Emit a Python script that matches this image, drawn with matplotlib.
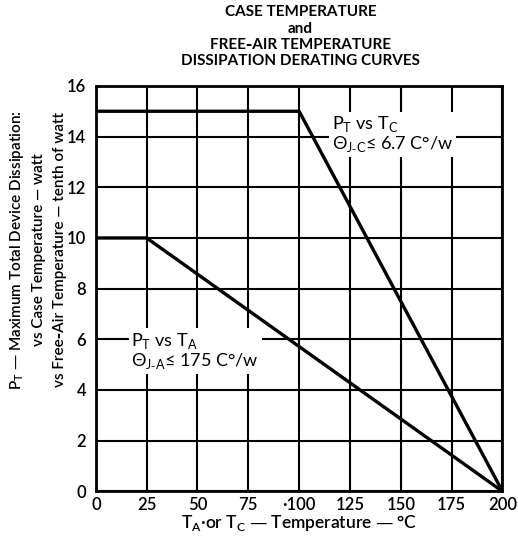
import matplotlib
matplotlib.use("Agg")
import matplotlib.pyplot as plt

plt.rcParams["font.family"] = ["Lato", "DejaVu Sans"]

# derating curves: (temperature degC, dissipation)
case_t = [0, 100, 200]
case_p = [15, 15, 0]
air_t = [0, 25, 200]
air_p = [10, 10, 0]

x_ticks = [0, 25, 50, 75, 100, 125, 150, 175, 200]
x_labels = ["0", "25", "50", "75", "\u00b7100", "125", "150", "175", "200"]
y_ticks = [0, 2, 4, 6, 8, 10, 12, 14, 16]

fig = plt.figure(figsize=(5.18, 5.37), dpi=100)
ax = fig.add_axes([0.185, 0.085, 0.785, 0.755])

ax.plot(case_t, case_p, color="black", lw=2.4, zorder=3)
ax.plot(air_t, air_p, color="black", lw=2.4, zorder=3)

ax.set_xlim(0, 200)
ax.set_ylim(0, 16)
ax.set_xticks(x_ticks)
ax.set_xticklabels(x_labels)
ax.set_yticks(y_ticks)
ax.grid(True, color="black", lw=1.5)
ax.tick_params(length=0, labelsize=12, pad=4)
ax.tick_params(axis="y", pad=7)
for lbl in ax.get_xticklabels() + ax.get_yticklabels():
    lbl.set_fontweight("semibold")
for s in ax.spines.values():
    s.set_linewidth(2)

box = dict(facecolor="white", edgecolor="none", pad=2)
ax.text(116, 13.3, "P$_\\mathregular{T}$ vs T$_\\mathregular{C}$\n"
        "\u0398$_\\mathregular{J\u2011C}$\u2264 6.7 C\u00b0/w",
        fontsize=13, ha="left", va="bottom", bbox=box, zorder=4, linespacing=1.0)
ax.text(17.5, 4.75, "P$_\\mathregular{T}$ vs T$_\\mathregular{A}$\n"
        "\u0398$_\\mathregular{J\u2011A}$\u2264 175 C\u00b0/w",
        fontsize=13, ha="left", va="bottom", bbox=box, zorder=4, linespacing=1.0)

fig.text(0.58, 0.99, "CASE TEMPERATURE\nand\nFREE\u2011AIR TEMPERATURE\n"
         "DISSIPATION DERATING CURVES", ha="center", va="top",
         fontsize=11, fontweight="bold", linespacing=1.2)

ax.set_xlabel("T$_\\mathregular{A}$\u00b7or T$_\\mathregular{C}$ \u2014 Temperature \u2014 \u00b0C",
              fontsize=12.5, fontweight="semibold", labelpad=0)
fig.text(0.072, 0.535,
         "P$_\\mathregular{T}$ \u2014 Maximum Total Device Dissipation:\n"
         "vs Case Temperature \u2014 watt\n"
         "vs Free\u2011Air Temperature \u2014 tenth of watt",
         rotation=90, ha="center", va="center", fontsize=11,
         fontweight="semibold", linespacing=1.6, multialignment="center")

fig.savefig("out.png", dpi=100)
